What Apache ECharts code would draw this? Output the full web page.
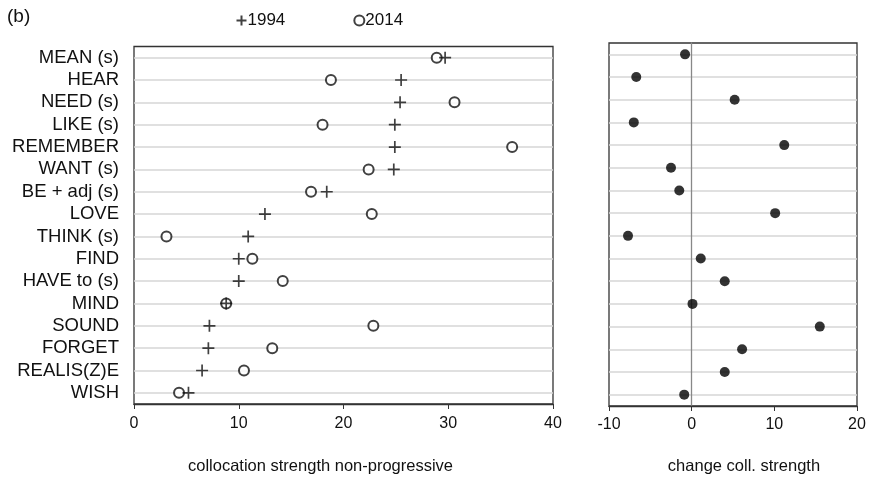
<!DOCTYPE html>
<html>
<head>
<meta charset="utf-8">
<script src="https://cdn.jsdelivr.net/npm/echarts@6/dist/echarts.min.js"></script>
<style>
html,body{margin:0;padding:0;background:#fff;}
#chart{width:869px;height:477px;}
</style>
</head>
<body>
<div id="chart"></div>
<script>
const categories = ['MEAN (s)','HEAR','NEED (s)','LIKE (s)','REMEMBER','WANT (s)','BE + adj (s)','LOVE','THINK (s)','FIND','HAVE to (s)','MIND','SOUND','FORGET','REALIS(Z)E','WISH'];
const values1994 = [29.7,25.5,25.4,24.9,24.9,24.8,18.4,12.5,10.9,10.0,10.0,8.8,7.2,7.1,6.5,5.2];
const values2014 = [28.9,18.8,30.6,18.0,36.1,22.4,16.9,22.7,3.1,11.3,14.2,8.8,22.85,13.2,10.5,4.3];
const changeValues = [-0.8,-6.7,5.2,-7.0,11.2,-2.5,-1.5,10.1,-7.7,1.1,4.0,0.1,15.5,6.1,4.0,-0.9];
const leftTicks = [0,10,20,30,40];
const rightTicks = [-10,0,10,20];

const FONT = 'Liberation Sans, Arial, sans-serif';
const chart = echarts.init(document.getElementById('chart'), null, {renderer:'canvas'});
const plusPath = 'path://M5,0 L5,10 M0,5 L10,5';
const gridLine = {show:true, alignWithLabel:true, lineStyle:{color:'#d6d6d6', width:1.5}};
const INK = '#111';

chart.setOption({
  animation:false,
  backgroundColor:'#fff',
  textStyle:{fontFamily:FONT},
  graphic:[{type:'text', left:7, top:7, style:{text:'(b)', font:'19px '+FONT, fill:INK}}],
  legend:{
    top:7, left:229, itemGap:68, itemWidth:10, itemHeight:10,
    textStyle:{fontSize:17, color:INK, fontFamily:FONT, padding:[0,0,0,-4]},
    data:['1994','2014']
  },
  grid:[
    {left:134, right:316, top:46.5, bottom:73, outerBoundsMode:'none', containLabel:false, show:true, borderColor:'#333', borderWidth:1.3, backgroundColor:'transparent'},
    {left:609, right:12, top:43, bottom:71, outerBoundsMode:'none', containLabel:false, show:true, borderColor:'#333', borderWidth:1.3, backgroundColor:'transparent'}
  ],
  xAxis:[
    {type:'value', gridIndex:0, min:leftTicks[0], max:leftTicks[leftTicks.length-1], interval:10,
     axisLine:{show:true, lineStyle:{color:'#333', width:1.3}},
     axisTick:{show:true, length:5, lineStyle:{color:'#333'}},
     axisLabel:{fontSize:16, color:INK, margin:12, fontFamily:FONT},
     splitLine:{show:false},
     name:'collocation strength non-progressive', nameLocation:'middle', nameGap:54,
     nameTextStyle:{fontSize:16.5, color:INK, fontFamily:FONT, padding:[0,46,0,0]}},
    {type:'value', gridIndex:1, min:rightTicks[0], max:rightTicks[rightTicks.length-1], interval:10,
     axisLine:{show:true, lineStyle:{color:'#333', width:1.3}},
     axisTick:{show:true, length:5, lineStyle:{color:'#333'}},
     axisLabel:{fontSize:16, color:INK, margin:11, fontFamily:FONT},
     splitLine:{show:false},
     name:'change coll. strength', nameLocation:'middle', nameGap:52,
     nameTextStyle:{fontSize:16.5, color:INK, fontFamily:FONT, padding:[0,0,0,22]}}
  ],
  yAxis:[
    {type:'category', gridIndex:0, inverse:true, data:categories,
     axisLine:{show:false}, axisTick:{show:false},
     axisLabel:{fontSize:18.5, color:INK, margin:15, interval:0, fontFamily:FONT},
     splitLine:gridLine},
    {type:'category', gridIndex:1, inverse:true, data:categories,
     axisLine:{show:true, onZero:true, lineStyle:{color:'#888', width:1.3}}, axisTick:{show:false},
     axisLabel:{show:false},
     splitLine:gridLine}
  ],
  series:[
    {name:'1994', type:'scatter', xAxisIndex:0, yAxisIndex:0, data:values1994,
     symbol:plusPath, symbolSize:12,
     itemStyle:{color:'none', borderColor:INK, borderWidth:1.7}, z:3},
    {name:'2014', type:'scatter', xAxisIndex:0, yAxisIndex:0, data:values2014,
     symbol:'emptyCircle', symbolSize:10,
     itemStyle:{color:INK, borderColor:INK, borderWidth:1.7}, z:2},
    {name:'change', type:'scatter', xAxisIndex:1, yAxisIndex:1, data:changeValues,
     symbol:'circle', symbolSize:10,
     itemStyle:{color:'#000'}}
  ]
});
</script>
</body>
</html>
